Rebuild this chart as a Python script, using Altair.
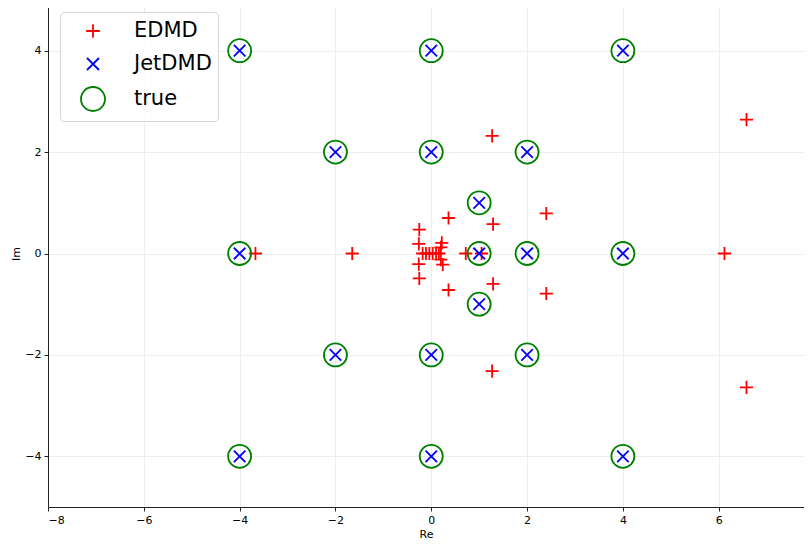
import altair as alt
import pandas as pd

# --- data ---
true_re = [-4, 0, 4, -2, 0, 2, 1, -4, 1, 2, 4, 1, -2, 0, 2, -4, 0, 4]
true_im = [4, 4, 4, 2, 2, 2, 1, 0, 0, 0, 0, -1, -2, -2, -2, -4, -4, -4]

jet_re = [-4, 0, 4, -2, 0, 2, 1, -4, 1, 2, 4, 1, -2, 0, 2, -4, 0, 4]
jet_im = [4, 4, 4, 2, 2, 2, 1, 0, 0, 0, 0, -1, -2, -2, -2, -4, -4, -4]

edmd_re = [1.27, 1.27, 6.58, 6.58, 6.12, -3.67, -1.65, 2.40, 2.40, 1.29, 1.29,
           0.36, 0.36, -0.25, -0.25, -0.26, -0.26, 0.22, 0.24, 0.20, 0.20,
           0.72, 1.05, -0.18, -0.11, -0.04, 0.03, 0.10, 0.16]
edmd_im = [2.32, -2.32, 2.64, -2.64, 0.0, 0.0, 0.0, 0.79, -0.79, 0.58, -0.60,
           0.70, -0.72, 0.47, -0.49, 0.19, -0.21, 0.21, -0.22, 0.12, -0.12,
           0.0, 0.0, 0.0, 0.0, 0.0, 0.0, 0.0, 0.0]

series_names = ["EDMD", "JetDMD", "true"]
x_ticks = [-8, -6, -4, -2, 0, 2, 4, 6]
y_ticks = [-4, -2, 0, 2, 4]

rows = []
for r, i in zip(edmd_re, edmd_im):
    rows.append({"Re": r, "Im": i, "series": "EDMD"})
for r, i in zip(jet_re, jet_im):
    rows.append({"Re": r, "Im": i, "series": "JetDMD"})
for r, i in zip(true_re, true_im):
    rows.append({"Re": r, "Im": i, "series": "true"})
df = pd.DataFrame(rows)

# marker glyphs inside the [-1, 1] symbol box (circle fills the box)
PLUS = "M-0.57,0L0.57,0M0,-0.57L0,0.57"
XSHAPE = "M-0.5,-0.5L0.5,0.5M-0.5,0.5L0.5,-0.5"

legend = alt.Legend(
    title=None,
    orient="none",
    legendX=12,
    legendY=12,
    padding=6,
    symbolOffset=14,
    labelOffset=28,
    rowPadding=9,
    symbolSize=576,
    labelFontSize=21,
    labelFont="DejaVu Sans",
    labelColor="black",
    symbolStrokeWidth=1.8,
    cornerRadius=4,
    strokeColor="#d6d6d6",
    fillColor="rgba(255,255,255,0.8)",
)

chart = (
    alt.Chart(df)
    .mark_point(filled=False, strokeWidth=1.8, opacity=1, size=529)
    .encode(
        x=alt.X("Re:Q", scale=alt.Scale(domain=[-8, 7.78], nice=False, zero=False),
                axis=alt.Axis(values=x_ticks, title="Re")),
        y=alt.Y("Im:Q", scale=alt.Scale(domain=[-5, 5], nice=False, zero=False),
                axis=alt.Axis(values=y_ticks, title="Im")),
        color=alt.Color("series:N",
                        scale=alt.Scale(domain=series_names, range=["#ff0000", "#0000ff", "#008000"]),
                        legend=legend),
        shape=alt.Shape("series:N",
                        scale=alt.Scale(domain=series_names, range=[PLUS, XSHAPE, "circle"]),
                        legend=legend),
    )
    .properties(
        width=756,
        height=507,
        autosize=alt.AutoSizeParams(type="none"),
        padding={"left": 40, "top": -8, "right": 0, "bottom": 33},
    )
    .configure_view(strokeWidth=0)
    .configure_axis(
        grid=True,
        gridColor="#e8e8e8",
        gridWidth=0.8,
        domainColor="#222222",
        domainWidth=1,
        tickColor="#222222",
        tickSize=4,
        labelFont="DejaVu Sans",
        labelFontSize=11,
        labelColor="black",
        labelPadding=3,
        titleFont="DejaVu Sans",
        titleFontSize=11,
        titleFontWeight="normal",
        titleColor="black",
        titlePadding=3,
    )
)

chart.save("out.html", embed_options={"renderer": "svg", "actions": False})
